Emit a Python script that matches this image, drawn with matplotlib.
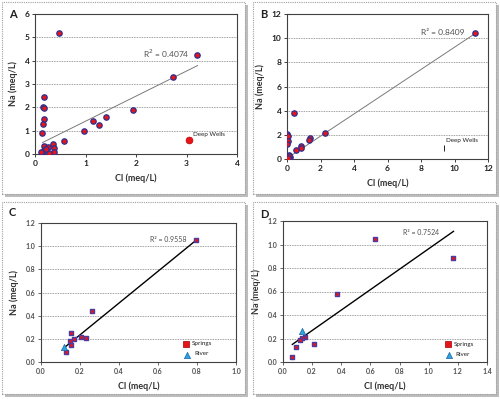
import numpy as np
import matplotlib.pyplot as plt
from matplotlib.patches import Rectangle

plt.rcParams['font.family'] = ['Lato', 'DejaVu Sans']

# panel A: wells
a_cl = [0.48, 3.21, 2.74, 1.95, 1.40, 1.14, 1.26, 0.98, 0.58, 0.17, 0.15, 0.18, 0.17,
        0.15, 0.14, 0.17, 0.26, 0.36, 0.38, 0.38, 0.28, 0.13, 0.17, 0.22, 0.12]
a_na = [5.17, 4.24, 3.29, 1.89, 1.60, 1.43, 1.24, 0.99, 0.57, 2.46, 2.03, 1.96, 1.50,
        1.29, 0.91, 0.36, 0.31, 0.41, 0.24, 0.10, 0.06, 0.03, 0.17, 0.20, 0.08]
a_deep = (3.05, 0.60)
a_fit = (1.075, 0.33, 0.15, 3.22)
a_r2 = 'R$^2$ = 0.4074'

# panel B
b_cl = [11.24, 2.26, 1.38, 1.30, 0.86, 0.86, 0.52, 0.42, 0.02, 0.08, 0.06, 0.02,
        0.12, 0.16, 0.00, 0.02, 0.10, 0.05]
b_na = [10.40, 2.16, 1.77, 1.55, 1.08, 0.91, 0.77, 3.84, 2.05, 1.90, 1.49, 1.27,
        0.30, 0.17, 0.10, 0.00, 0.22, 0.05]
b_deep = (9.35, 0.90)
b_fit = (0.92, 0.05, 0.0, 11.24)
b_r2 = 'R² = 0.8409'

# panel C: springs and river
c_cl = [0.797, 0.262, 0.154, 0.168, 0.207, 0.232, 0.150, 0.156, 0.130]
c_na = [1.056, 0.437, 0.253, 0.200, 0.216, 0.204, 0.180, 0.150, 0.086]
c_river = (0.12, 0.13)
c_fit = (1.372, -0.04, 0.125, 0.80)
c_r2 = 'R² = 0.9558'

# panel D
d_cl = [0.631, 1.164, 0.374, 0.213, 0.149, 0.131, 0.115, 0.092, 0.062]
d_na = [1.044, 0.885, 0.576, 0.150, 0.216, 0.207, 0.190, 0.128, 0.043]
d_river = (0.133, 0.261)
d_fit = (0.87, 0.094, 0.064, 1.17)
d_r2 = 'R² = 0.7524'

W, H = 500, 399
fig = plt.figure(figsize=(5, 3.99), dpi=100)


def rect(x0, y0, x1, y1):
    return [x0 / W, 1 - y1 / H, (x1 - x0) / W, (y1 - y0) / H]


# panel frames with shadow
for (x0, y0, x1, y1) in [(2, 2, 245, 194), (253, 2, 496, 194), (2, 202, 245, 394), (253, 202, 496, 394)]:
    fig.patches.append(Rectangle((x1 / W, 1 - (y1 + 3) / H), 3 / W, (y1 - y0) / H,
                                 transform=fig.transFigure, color='#bdbdbd', lw=0))
    fig.patches.append(Rectangle(((x0 + 3) / W, 1 - (y1 + 3) / H), (x1 - x0) / W, 3 / H,
                                 transform=fig.transFigure, color='#bdbdbd', lw=0))
    fig.patches.append(Rectangle((x0 / W, 1 - y1 / H), (x1 - x0) / W, (y1 - y0) / H,
                                 transform=fig.transFigure, fill=False, ec='#a0a0a0', lw=0.8,
                                 ls=(0, (1, 1))))


def setup(ax, xlim, xt, ylim, yt, fmt, tsize, tcolor):
    ax.set_xlim(xlim)
    ax.set_ylim(ylim)
    ax.set_xticks(xt)
    ax.set_yticks(yt)
    ax.set_xticklabels([fmt.format(v) for v in xt], fontweight='bold')
    ax.set_yticklabels([fmt.format(v) for v in yt], fontweight='bold')
    ax.tick_params(labelsize=tsize, length=2, width=0.6, pad=2, colors=tcolor)
    ax.grid(axis='y', color='#808080', ls=(0, (1, 1)), lw=0.6)
    ax.set_axisbelow(True)
    for s in ax.spines.values():
        s.set_color('#404040')
        s.set_linewidth(0.8)
    ax.set_xlabel('Cl (meq/L)', fontsize=6.5, fontweight='bold', color='#303030', labelpad=5)
    ax.set_ylabel('Na (meq/L)', fontsize=6.5, fontweight='bold', color='#303030', labelpad=5)


def fitline(ax, fit, color, lw):
    m, b, xa, xb = fit
    xs = np.array([xa, xb])
    ax.plot(xs, m * xs + b, color=color, lw=lw, zorder=2)


# A
axA = fig.add_axes(rect(35, 14, 237, 154))
setup(axA, (0, 4), [0, 1, 2, 3, 4], (0, 6), [0, 1, 2, 3, 4, 5, 6], '{:g}', 6, '#202020')
fitline(axA, a_fit, '#7a7a7a', 0.7)
axA.scatter(a_cl, a_na, s=15, c='#e8141a', edgecolors='#2b2f8f', linewidths=0.9, zorder=3)
axA.scatter([a_deep[0]], [a_deep[1]], s=24, c='#e8141a', edgecolors='#c00000', linewidths=0.5, zorder=3)
axA.text(3.12, 0.78, 'Deep Wells', fontsize=4.5, color='#202020')
axA.text(2.14, 4.3, a_r2, fontsize=6, color='#505050', ha='left', va='center')

# B
axB = fig.add_axes(rect(287, 14, 488, 159))
setup(axB, (0, 12), [0, 2, 4, 6, 8, 10, 12], (0, 12), [0, 2, 4, 6, 8, 10, 12], '{:g}', 6, '#202020')
fitline(axB, b_fit, '#7a7a7a', 0.7)
axB.scatter(b_cl, b_na, s=15, c='#e8141a', edgecolors='#2b2f8f', linewidths=0.9, zorder=3)
axB.plot([b_deep[0]], [b_deep[1]], marker='|', ms=5, color='#202020', mew=0.7)
axB.text(9.5, 1.4, 'Deep Wells', fontsize=4.5, color='#202020')
axB.text(10.6, 10.3, b_r2, fontsize=6, color='#505050', ha='right')

# C
axC = fig.add_axes(rect(41, 223, 236, 362))
setup(axC, (0, 1.0), [0, 0.2, 0.4, 0.6, 0.8, 1.0], (0, 1.2), [0, 0.2, 0.4, 0.6, 0.8, 1.0, 1.2],
      '{:.1f}', 5, '#505050')
fitline(axC, c_fit, '#000000', 1.0)
axC.scatter(c_cl, c_na, s=12, marker='s', c='#e8141a', edgecolors='#4b3ca0', linewidths=1.0, zorder=3)
axC.scatter([c_river[0]], [c_river[1]], s=20, marker='^', c='#2aa3de', edgecolors='#2266aa',
            linewidths=0.5, zorder=3)
axC.text(0.745, 1.04, c_r2, fontsize=5, color='#505050', ha='right')
axC.scatter([0.744], [0.158], s=16, marker='s', c='#e8141a', edgecolors='#a00000', linewidths=0.5)
axC.text(0.775, 0.158, 'Springs', fontsize=4.5, va='center', color='#202020')
axC.scatter([0.748], [0.063], s=20, marker='^', c='#2aa3de', edgecolors='#2266aa', linewidths=0.5)
axC.text(0.785, 0.07, 'River', fontsize=4.5, va='center', color='#202020')

# D
axD = fig.add_axes(rect(283, 221, 487, 362))
setup(axD, (0, 1.4), [0, 0.2, 0.4, 0.6, 0.8, 1.0, 1.2, 1.4], (0, 1.2),
      [0, 0.2, 0.4, 0.6, 0.8, 1.0, 1.2], '{:.1f}', 5, '#505050')
fitline(axD, d_fit, '#000000', 1.0)
axD.scatter(d_cl, d_na, s=12, marker='s', c='#e8141a', edgecolors='#4b3ca0', linewidths=1.0, zorder=3)
axD.scatter([d_river[0]], [d_river[1]], s=20, marker='^', c='#2aa3de', edgecolors='#2266aa',
            linewidths=0.5, zorder=3)
axD.text(1.07, 1.08, d_r2, fontsize=5, color='#505050', ha='right')
axD.scatter([1.13], [0.15], s=16, marker='s', c='#e8141a', edgecolors='#a00000', linewidths=0.5)
axD.text(1.17, 0.15, 'Springs', fontsize=4.5, va='center', color='#202020')
axD.scatter([1.14], [0.057], s=20, marker='^', c='#2aa3de', edgecolors='#2266aa', linewidths=0.5)
axD.text(1.18, 0.062, 'River', fontsize=4.5, va='center', color='#202020')

# panel letters
for lab, x, y in [('A', 9, 14), ('B', 260, 14), ('C', 9, 212), ('D', 260, 214)]:
    fig.text(x / W, 1 - y / H, lab, fontsize=8, fontweight='bold', va='center', color='#202020')

fig.savefig('out.png', dpi=100)
